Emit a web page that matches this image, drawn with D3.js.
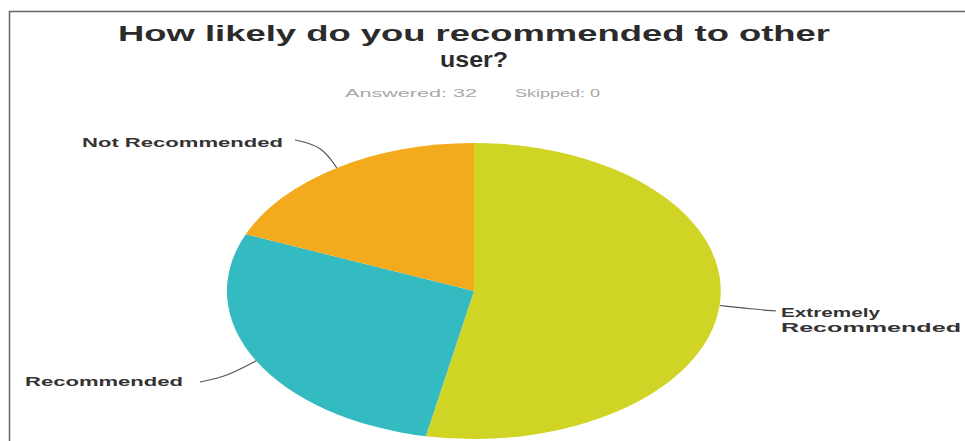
<!DOCTYPE html>
<html>
<head>
<meta charset="utf-8">
<script src="https://cdn.jsdelivr.net/npm/d3@7"></script>
<style>
  body { margin: 0; background: #fff; }
  svg { display: block; font-family: "Liberation Sans", Arial, sans-serif; }
</style>
</head>
<body>
<div id="chart"></div>
<script>

// survey answers (32 answered, 0 skipped)
var categories = ["Extremely Recommended", "Recommended", "Not Recommended"],
	counts = [17, 9, 6],
	colors = ["#cfd425", "#34bbc1", "#f4aa1d"];

var answered = 32,
	skipped = 0;

var width = 965,
	height = 441;

// the picture is stretched sideways, so the pie is an ellipse
var cx = 474, cy = 291,
	rx = 247, ry = 148;

var svg = d3.select("#chart")
	.append("svg")
	.attr("width", width)
	.attr("height", height);

// frame (top and left edges only show)
svg.append("line")
	.attr("x1", 9).attr("y1", 11.5).attr("x2", width).attr("y2", 11.5)
	.attr("stroke", "#666").attr("stroke-width", 1.5);
svg.append("line")
	.attr("x1", 9.5).attr("y1", 11).attr("x2", 9.5).attr("y2", height)
	.attr("stroke", "#666").attr("stroke-width", 1.5);

// title, two lines, stretched to the widths in the picture
svg.append("text")
	.attr("x", 474).attr("y", 41)
	.attr("text-anchor", "middle")
	.attr("font-size", 22).attr("font-weight", "bold")
	.attr("fill", "#2b2b2b")
	.attr("textLength", 712).attr("lengthAdjust", "spacingAndGlyphs")
	.text("How likely do you recommended to other");
svg.append("text")
	.attr("x", 474).attr("y", 67)
	.attr("text-anchor", "middle")
	.attr("font-size", 22).attr("font-weight", "bold")
	.attr("fill", "#2b2b2b")
	.attr("textLength", 68).attr("lengthAdjust", "spacingAndGlyphs")
	.text("user?");

svg.append("text")
	.attr("x", 345).attr("y", 97)
	.attr("font-size", 10).attr("fill", "#a8a8a8")
	.attr("textLength", 132).attr("lengthAdjust", "spacingAndGlyphs")
	.text("Answered: " + answered);
svg.append("text")
	.attr("x", 515).attr("y", 97)
	.attr("font-size", 10).attr("fill", "#a8a8a8")
	.attr("textLength", 85).attr("lengthAdjust", "spacingAndGlyphs")
	.text("Skipped: " + skipped);

var pie = d3.pie()
	.sort(null)
	.value(function(d){ return d; });

var arcs = pie(counts);

// unit arc, scaled into the ellipse
var arc = d3.arc()
	.innerRadius(0)
	.outerRadius(1);

var g = svg.append("g")
	.attr("transform", "translate(" + cx + "," + cy + ") scale(" + rx + "," + ry + ")");

g.selectAll("path")
	.data(arcs)
		.enter()
	.append("path")
	.attr("fill", function(d, i){ return colors[i]; })
	.attr("d", arc);

// point on the rim at the middle of a slice
function rim(d) {
	var a = (d.startAngle + d.endAngle) / 2;
	return [cx + rx * Math.sin(a), cy - ry * Math.cos(a)];
}

// label placement: leader bend / end and text lines
var labels = [
	{ lines: ["Extremely", "Recommended"], x: 781, y: [317, 332], leader: [[752, 309], [776, 311]] },
	{ lines: ["Recommended"], x: 25, y: [386], leader: [[228, 376], [200, 382]] },
	{ lines: ["Not Recommended"], x: 82, y: [147], leader: [[322, 146], [295, 140]] }
];

var widths = { "Extremely": 99, "Recommended": 180, "Not Recommended": 201 };
var leftWidths = { "Recommended": 158 };

var line = d3.line().curve(d3.curveBasis);

labels.forEach(function(lab, i){
	var pts = [rim(arcs[i])].concat(lab.leader);
	svg.append("path")
		.attr("d", line(pts))
		.attr("fill", "none")
		.attr("stroke", "#555")
		.attr("stroke-width", 1.2);

	lab.lines.forEach(function(t, j){
		var w = (i === 1) ? leftWidths[t] : widths[t];
		svg.append("text")
			.attr("x", lab.x).attr("y", lab.y[j])
			.attr("font-size", 13).attr("font-weight", "bold")
			.attr("fill", "#333")
			.attr("textLength", w).attr("lengthAdjust", "spacingAndGlyphs")
			.text(t);
	});
});

</script>
</body>
</html>
